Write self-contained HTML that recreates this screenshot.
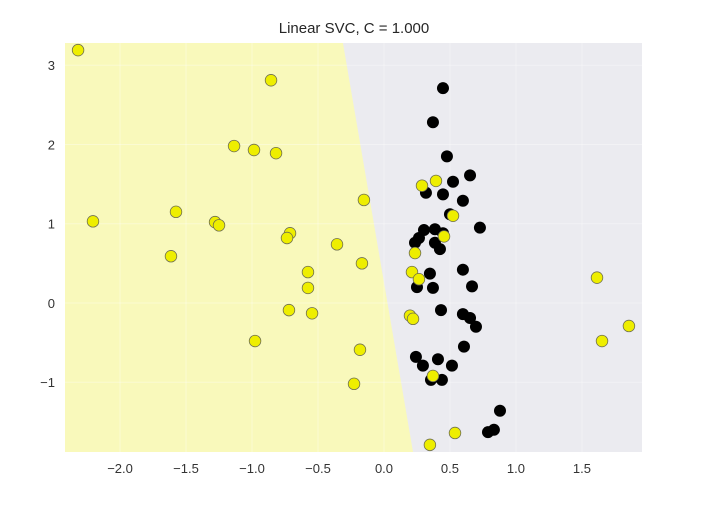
<!DOCTYPE html>
<html><head><meta charset="utf-8"><style>
body{margin:0;background:#fff;width:707px;height:503px;overflow:hidden}
svg{font-family:"Liberation Sans",sans-serif}
</style></head><body>
<svg id="chart" width="707" height="503" viewBox="0 0 707 503"></svg>
<script>
const yellowX=[-2.318,-0.856,-1.136,-0.985,-0.818,-2.205,-1.576,-1.280,-1.250,-1.614,-0.712,-0.735,-0.356,-0.152,-0.576,-0.576,-0.167,-0.720,-0.545,-0.977,-0.182,-0.227,0.288,0.394,0.523,0.455,0.235,0.212,0.265,0.197,0.220,0.371,0.538,0.348,1.614,1.652,1.856];
const yellowY=[3.19,2.81,1.98,1.93,1.89,1.03,1.15,1.02,0.98,0.59,0.88,0.82,0.74,1.30,0.39,0.19,0.50,-0.09,-0.13,-0.48,-0.59,-1.02,1.48,1.54,1.10,0.84,0.63,0.39,0.30,-0.16,-0.20,-0.92,-1.64,-1.79,0.32,-0.48,-0.29];
const blackX=[0.447,0.371,0.477,0.652,0.523,0.318,0.447,0.598,0.5,0.727,0.303,0.386,0.447,0.265,0.235,0.386,0.424,0.598,0.348,0.25,0.371,0.667,0.432,0.598,0.652,0.697,0.606,0.242,0.295,0.409,0.515,0.356,0.439,0.879,0.788,0.833];
const blackY=[2.71,2.28,1.85,1.61,1.53,1.39,1.37,1.29,1.12,0.95,0.92,0.93,0.88,0.82,0.76,0.76,0.68,0.42,0.37,0.20,0.19,0.21,-0.09,-0.14,-0.19,-0.30,-0.55,-0.68,-0.79,-0.71,-0.79,-0.97,-0.97,-1.36,-1.63,-1.60];
const xTicks=[-2.0,-1.5,-1.0,-0.5,0.0,0.5,1.0,1.5];
const yTicks=[-1,0,1,2,3];
const boundaryX=[-0.311,0.22];
const boundaryY=[3.28,-1.88];
const L=65,R=642,T=43,B=452;
const xmin=-2.417,xmax=1.955,ymin=-1.88,ymax=3.28;
const sx=v=>L+(v-xmin)/(xmax-xmin)*(R-L);
const sy=v=>B-(v-ymin)/(ymax-ymin)*(B-T);
const svg=document.getElementById('chart');
const NS='http://www.w3.org/2000/svg';
function mk(t,a){const e=document.createElementNS(NS,t);for(const k in a)e.setAttribute(k,a[k]);svg.appendChild(e);return e;}
let e=mk('rect',{x:L,y:T,width:R-L,height:B-T,fill:'#ebebf0'});


// yellow region
const bx0=sx(boundaryX[0]),by0=sy(boundaryY[0]),bx1=sx(boundaryX[1]),by1=sy(boundaryY[1]);
e=mk('polygon',{points:`${L},${T} ${bx0},${by0} ${bx1},${by1} ${L},${B}`,fill:'#f9f9bb'});


xTicks.forEach(t=>{
 e=mk('line',{x1:sx(t),x2:sx(t),y1:T,y2:B,stroke:'#ffffff','stroke-opacity':0.35,'stroke-width':1});
 
 
 e=mk('text',{x:sx(t),y:473,'text-anchor':'middle','font-size':13,fill:'#333'});
 e.textContent=(t<0?'\u2212':'')+Math.abs(t).toFixed(1);
 
 
});
yTicks.forEach(t=>{
 e=mk('line',{x1:L,x2:R,y1:sy(t),y2:sy(t),stroke:'#ffffff','stroke-opacity':0.35,'stroke-width':1});
 
 
 e=mk('text',{x:55,y:sy(t)+5,'text-anchor':'end','font-size':13,fill:'#333'});
 e.textContent=(t<0?'\u2212':'')+Math.abs(t);
 
 
});
blackX.forEach((v,i)=>{
 e=mk('circle',{cx:sx(v),cy:sy(blackY[i]),r:6,fill:'#000'});
 
 
});
yellowX.forEach((v,i)=>{
 e=mk('circle',{cx:sx(v),cy:sy(yellowY[i]),r:5.8,fill:'#eeee00',stroke:'#6e6e50','stroke-width':0.8});
 
 
});
e=mk('text',{x:354,y:33,'text-anchor':'middle','font-size':15,fill:'#262626'});
e.textContent='Linear SVC, C = 1.000';


</script>
</body></html>
